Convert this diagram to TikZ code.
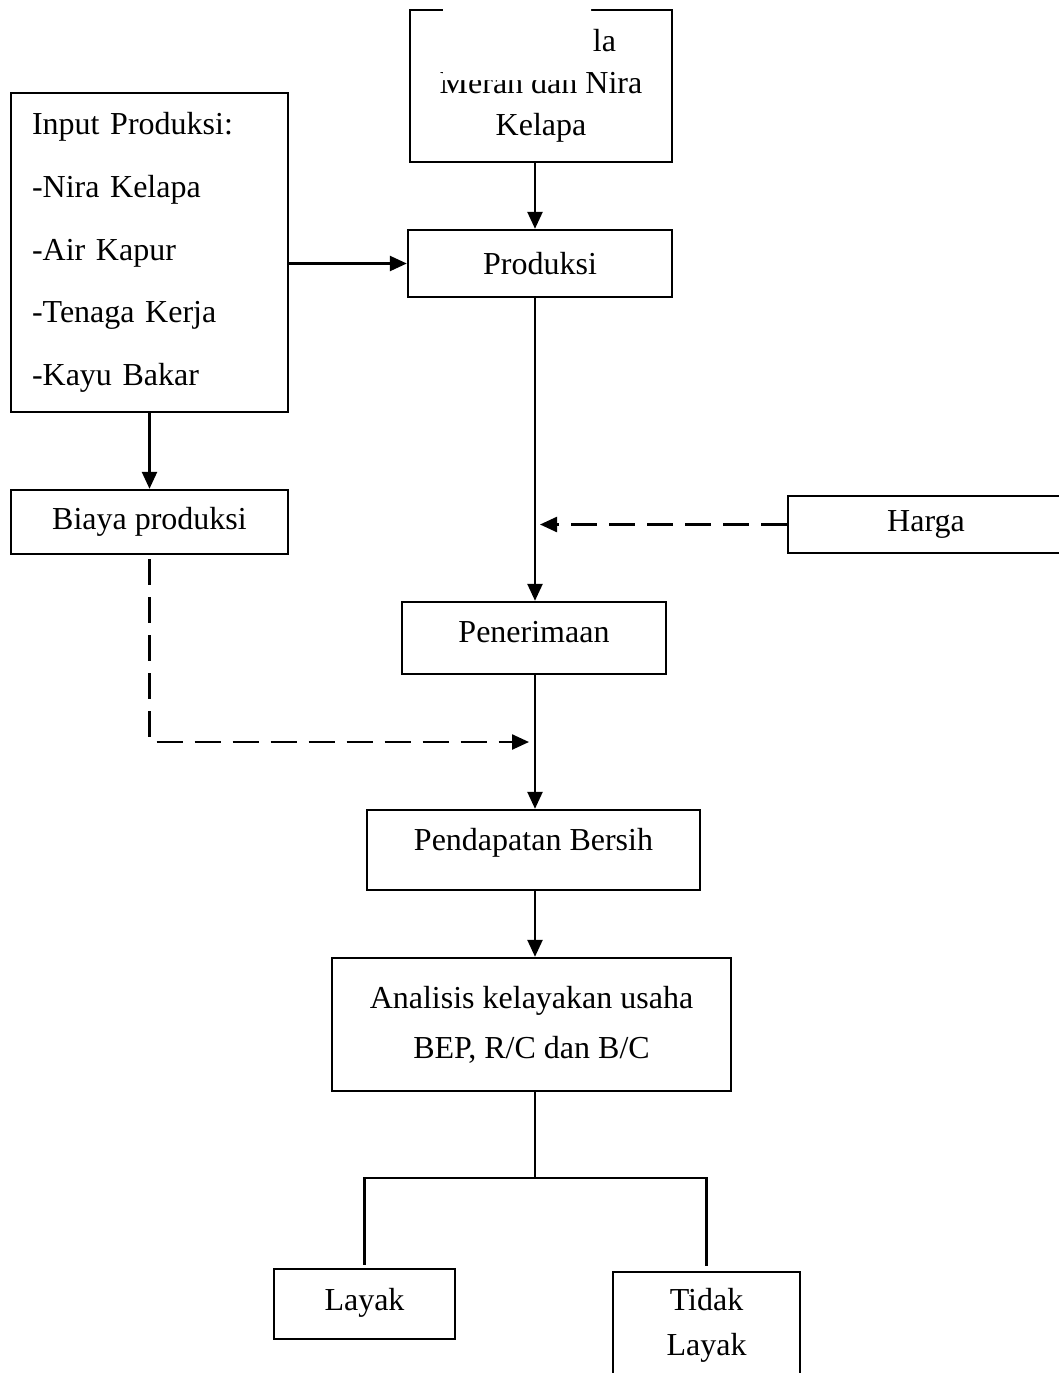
\documentclass[tikz,border=0pt]{standalone}
\usepackage{fontspec}
\setmainfont{Liberation Serif}
\usetikzlibrary{arrows.meta}

\begin{document}
\begin{tikzpicture}[
    x=1pt, y=-1pt,
    font=\fontsize{32}{42}\selectfont,
    block/.style={rectangle, draw=black, line width=2.4pt, fill=white,
        inner sep=0pt, align=center},
    edge/.style={line width=2.5pt, -{Triangle[length=17pt,width=15pt]}},
    link/.style={line width=2.4pt, -},
    dashedge/.style={line width=2.4pt, dash pattern=on 26pt off 12pt,
        -{Triangle[length=17pt,width=15pt]}}
]
    \useasboundingbox (0,0) rectangle (1059,1373);
    \coordinate (trunk) at (535,0);
    \node[block, minimum width=262pt, minimum height=152pt] (usaha) at (541,86)
        {\phantom{Usaha Gu}la\\Merah dan Nira\\Kelapa};
    \fill[white] (443,-2) -- (591,-2) -- (591,60) -- (581,60) -- (581,80) -- (443,80) -- cycle;
    \node[block, minimum width=264pt, minimum height=67pt] (prod) at (540,263.5) {Produksi};
    \node[block, minimum width=277pt, minimum height=319pt, text width=235pt, align=left,
        font=\fontsize{32}{62.75}\selectfont] (input) at (149.5,252.5)
        {Input Produksi:\\-Nira Kelapa\\-Air Kapur\\-Tenaga Kerja\\-Kayu Bakar};
    \node[block, minimum width=277pt, minimum height=64pt] (biaya) at (149.5,522) {Biaya produksi};
    \node[block, minimum width=276pt, minimum height=57pt] (harga) at (926,524.5) {Harga};
    \node[block, minimum width=264pt, minimum height=72pt, text depth=13pt] (terima) at (534,638) {Penerimaan};
    \node[block, minimum width=333pt, minimum height=80pt, text depth=21pt] (bersih) at (533.5,850) {Pendapatan Bersih};
    \node[block, minimum width=399pt, minimum height=133pt,
        font=\fontsize{32}{50}\selectfont] (analisis) at (531.5,1024.5)
        {Analisis kelayakan usaha\\BEP, R/C dan B/C};
    \node[block, minimum width=181pt, minimum height=70pt, text depth=9pt] (layak) at (364.5,1304) {Layak};
    \node[block, minimum width=187pt, minimum height=106pt,
        font=\fontsize{32}{45}\selectfont] (tidak) at (706.5,1325) {Tidak\\Layak};

    % alur utama
    \draw[edge] (usaha.south -| trunk) -- (prod.north -| trunk);
    \draw[edge] (input.east |- prod.west) -- (prod.west);
    \draw[edge] (input.south) -- (biaya.north);
    \draw[edge] (prod.south -| trunk) -- (terima.north -| trunk);
    \draw[dashedge, shorten >=5pt] (harga.west) -- (harga.west -| trunk);
    \coordinate (costjoin) at (535,742);
    \draw[dashedge, shorten <=4pt, shorten >=6pt] (biaya.south) |- (costjoin);
    \draw[edge] (terima.south -| trunk) -- (bersih.north -| trunk);
    \draw[edge] (bersih.south -| trunk) -- (analisis.north -| trunk);

    % cabang keputusan
    \coordinate (split) at (535,1178);
    \draw[link] (analisis.south -| trunk) -- (split);
    \draw[link] ([yshift=3pt]layak.north) |- (split) -| ([yshift=5pt]tidak.north);
\end{tikzpicture}
\end{document}
